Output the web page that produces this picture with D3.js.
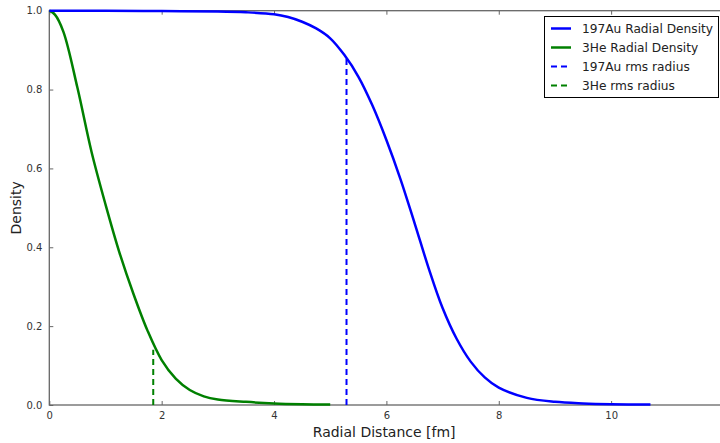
<!DOCTYPE html>
<html>
<head>
<meta charset="utf-8">
<script src="https://cdn.jsdelivr.net/npm/d3@7"></script>
<style>
  html, body { margin: 0; padding: 0; background: #fff; }
  svg { display: block; font-family: "DejaVu Sans", sans-serif; }
</style>
</head>
<body>
<svg id="chart" width="720" height="443"></svg>
<script>
// Radial distance samples [fm] and normalised densities
const auRadius  = [0, 1, 2, 3, 3.5, 4, 4.25, 4.5, 4.75, 5, 5.25, 5.5, 5.75, 6, 6.25, 6.5, 6.75, 7, 7.25, 7.5, 7.75, 8, 8.5, 9, 9.5, 10, 10.7];
const auDensity = [1.0, 1.0, 0.999, 0.998, 0.996, 0.991, 0.984, 0.972, 0.955, 0.930, 0.888, 0.833, 0.760, 0.672, 0.573, 0.462, 0.348, 0.246, 0.168, 0.110, 0.070, 0.044, 0.018, 0.008, 0.004, 0.002, 0.001];

const heRadius  = [0, 0.1, 0.25, 0.5, 0.75, 1.0, 1.25, 1.5, 1.75, 2.0, 2.25, 2.5, 2.75, 3.0, 3.5, 4.0, 4.5, 5.0];
const heDensity = [1.0, 0.99, 0.947, 0.805, 0.643, 0.509, 0.386, 0.281, 0.188, 0.114, 0.067, 0.038, 0.022, 0.014, 0.008, 0.004, 0.002, 0.001];

// rms radii and the density at which each marker line stops
const rmsNames   = ["197Au rms radius", "3He rms radius"];
const rmsRadius  = [5.29, 1.85];
const rmsHeight  = [0.879, 0.140];

const seriesNames = ["197Au Radial Density", "3He Radial Density"];
const xTicks = [0, 2, 4, 6, 8, 10];
const yTicks = [0, 0.2, 0.4, 0.6, 0.8, 1.0];

const colors = { au: "#0000ff", he: "#008000" };

const svg = d3.select("#chart");
const plotLeft = 49.3, plotRight = 723.5, plotTop = 10.7, plotBottom = 405;

const x = d3.scaleLinear().domain([0, 12]).range([plotLeft, plotRight]);
const y = d3.scaleLinear().domain([0, 1]).range([plotBottom, plotTop]);

// tick marks pointing inward on all four sides
const tickLen = 4;
const axisColor = "#666";
const g = svg.append("g");

const bottomAxis = d3.axisBottom(x).tickValues(xTicks).tickSizeInner(-tickLen).tickSizeOuter(0)
  .tickPadding(7).tickFormat(d3.format("d"));
const leftAxis = d3.axisLeft(y).tickValues(yTicks).tickSizeInner(-tickLen).tickSizeOuter(0)
  .tickPadding(7).tickFormat(d3.format(".1f"));
const topAxis = d3.axisTop(x).tickValues(xTicks).tickSizeInner(-tickLen).tickSizeOuter(0).tickFormat("");

function styleAxis(sel) {
  sel.select(".domain").remove();
  sel.selectAll(".tick line").attr("stroke", axisColor).attr("stroke-width", 1);
  sel.selectAll(".tick text").attr("fill", "#333").attr("font-size", 10)
    .attr("font-family", "DejaVu Sans, sans-serif");
}

g.append("g").attr("transform", `translate(0,${plotBottom})`).call(bottomAxis).call(styleAxis);
g.append("g").attr("transform", `translate(${plotLeft},0)`).call(leftAxis).call(styleAxis);
g.append("g").attr("transform", `translate(0,${plotTop})`).call(topAxis).call(styleAxis);

// frame
svg.append("rect")
  .attr("x", plotLeft).attr("y", plotTop)
  .attr("width", plotRight - plotLeft).attr("height", plotBottom - plotTop)
  .attr("fill", "none").attr("stroke", axisColor).attr("stroke-width", 1.3);

// density curves
const line = d3.line().x(d => x(d[0])).y(d => y(d[1])).curve(d3.curveCatmullRom.alpha(0.5));

svg.append("path")
  .datum(d3.zip(heRadius, heDensity))
  .attr("d", line).attr("fill", "none")
  .attr("stroke", colors.he).attr("stroke-width", 2.5);

svg.append("path")
  .datum(d3.zip(auRadius, auDensity))
  .attr("d", line).attr("fill", "none")
  .attr("stroke", colors.au).attr("stroke-width", 2.5);

// rms radius markers
const rmsColors = [colors.au, colors.he];
rmsRadius.forEach((r, i) => {
  svg.append("line")
    .attr("x1", x(r)).attr("x2", x(r))
    .attr("y1", y(0)).attr("y2", y(rmsHeight[i]))
    .attr("stroke", rmsColors[i]).attr("stroke-width", 2)
    .attr("stroke-dasharray", "6,4");
});

// axis labels
svg.append("text")
  .attr("x", (plotLeft + 719) / 2).attr("y", 437)
  .attr("text-anchor", "middle").attr("font-size", 14).attr("fill", "#222")
  .text("Radial Distance [fm]");

svg.append("text")
  .attr("transform", `translate(21,${(plotTop + plotBottom) / 2}) rotate(-90)`)
  .attr("text-anchor", "middle").attr("font-size", 14).attr("fill", "#222")
  .text("Density");

// legend
const legend = svg.append("g");
const legendX = 544.5, legendY = 16.5;
legend.append("rect")
  .attr("x", legendX).attr("y", legendY)
  .attr("width", 174).attr("height", 81)
  .attr("fill", "#fff").attr("stroke", "#000").attr("stroke-width", 1);

const legendItems = [
  { label: seriesNames[0], color: colors.au, dash: null },
  { label: seriesNames[1], color: colors.he, dash: null },
  { label: rmsNames[0], color: colors.au, dash: "6,4" },
  { label: rmsNames[1], color: colors.he, dash: "6,4" }
];
legendItems.forEach((item, i) => {
  const cy = 28.5 + i * 19;
  legend.append("line")
    .attr("x1", 551).attr("x2", 571).attr("y1", cy).attr("y2", cy)
    .attr("stroke", item.color).attr("stroke-width", item.dash ? 2 : 2.5)
    .attr("stroke-dasharray", item.dash);
  legend.append("text")
    .attr("x", 582).attr("y", cy).attr("dy", "0.35em")
    .attr("font-size", 12.2).attr("fill", "#222")
    .text(item.label);
});
</script>
</body>
</html>
